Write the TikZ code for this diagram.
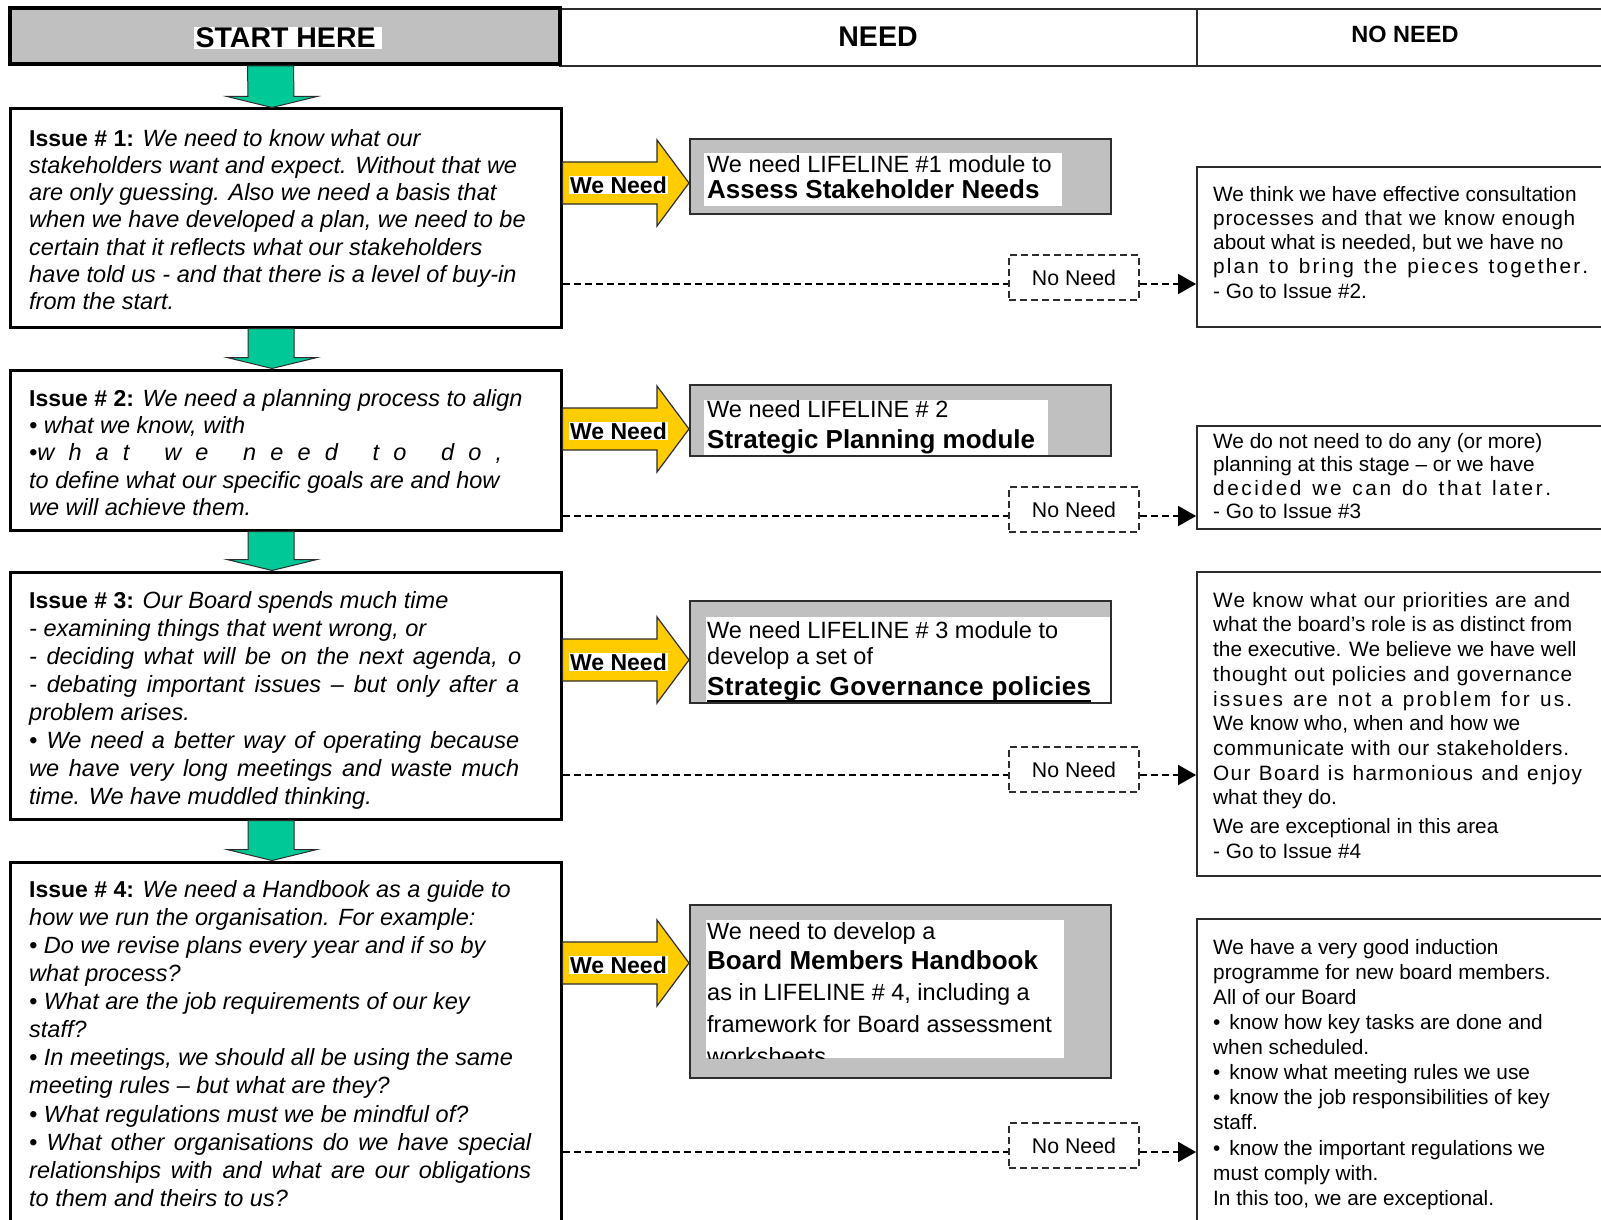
\documentclass[tikz,border=0pt]{standalone}
\usepackage{fontspec}
\setmainfont{Liberation Sans}
\usetikzlibrary{arrows.meta,calc}

\definecolor{cellgrey}{RGB}{192,192,192}
\definecolor{flowgreen}{RGB}{0,200,150}
\definecolor{needyellow}{RGB}{255,204,0}
\definecolor{edgegrey}{RGB}{45,45,45}

% spread a line letter by letter to a fixed width (~ marks a word space)
\makeatletter
\newcommand\spreadto[2]{\makebox[#1][s]{\@tfor\spr@tok:=#2\do{\spr@tok\hfil}\unskip}}
\makeatother
\newcommand\issuetag[1]{{\upshape\bfseries\fontsize{23}{27}\selectfont Issue \# #1:}}

% green block arrow between two stacked boxes
\newcommand\flowdown[2]{%
  \filldraw[flowarrow] ($(#1.south)+(-37.5,0)$) -- ($(#1.south)+(8.5,0)$)
    -- ($(#2.north)+(8.5,-11)$) -- ($(#2.north)+(31.5,-11)$)
    -- ($(#2.north)+(-13.5,0)$) -- ($(#2.north)+(-58.5,-11)$)
    -- ($(#2.north)+(-37.5,-11)$) -- cycle;}
% yellow block arrow from an issue box to its module box, at level #3
\newcommand\needarrow[3]{%
  \filldraw[needarrowstyle] ($(#1.east |- #3)+(0,-21)$) -- ($(#2.west |- #3)+(-32,-21)$)
    -- ($(#2.west |- #3)+(-32,-43)$) -- (#2.west |- #3)
    -- ($(#2.west |- #3)+(-32,43)$) -- ($(#2.west |- #3)+(-32,21)$)
    -- ($(#1.east |- #3)+(0,21)$) -- cycle;}
% dashed "no need" route: issue box -> label box -> outcome box
\newcommand\noneedroute[4]{%
  \draw[dashlink] (#1.east |- #4) -- (#2.west |- #4);
  \draw[dashlink,-{Triangle[length=18pt,width=20pt]}] (#2.east |- #4) -- (#3.west |- #4);}

\begin{document}
\begin{tikzpicture}[x=1pt,y=-1pt,
  issuebox/.style={draw=black, line width=3pt, fill=white, inner sep=0pt, minimum width=551pt},
  startbox/.style={draw=black, line width=4pt, fill=cellgrey, inner sep=0pt},
  hdrcell/.style={draw=edgegrey, line width=1.6pt, inner sep=0pt, minimum height=57pt},
  hdrtext/.style={inner sep=0pt, font=\bfseries\fontsize{28.5}{32}\selectfont},
  lifebox/.style={draw=edgegrey, line width=2pt, fill=cellgrey, inner sep=0pt, minimum width=421pt},
  nnbox/.style={draw=edgegrey, line width=1.8pt, dash pattern=on 7pt off 4pt, fill=white,
    inner sep=0pt, minimum width=130pt, minimum height=45pt, font=\fontsize{21.3}{24}\selectfont},
  outbox/.style={draw=edgegrey, line width=1.8pt, fill=white, inner sep=0pt, minimum width=423pt},
  dashlink/.style={draw=black, line width=1.6pt, dash pattern=on 7pt off 4pt},
  flowarrow/.style={fill=flowgreen, draw=edgegrey, line width=1pt},
  needarrowstyle/.style={fill=needyellow, draw=edgegrey, line width=1.2pt},
  needlabel/.style={fill=white, inner xsep=1pt, inner ysep=0.5pt, font=\bfseries\fontsize{23}{26}\selectfont},
  issuetext/.style={anchor=north west, inner sep=0pt, align=left},
  outtext/.style={anchor=north west, inner sep=0pt, align=left},
  lifetext/.style={anchor=base west, inner sep=0pt, font=\fontsize{23.5}{28}\selectfont},
  lifehead/.style={anchor=base west, inner sep=0pt, font=\bfseries\fontsize{26}{30}\selectfont}]

\useasboundingbox (0,0) rectangle (1601,1220);
\fill[white] (0,0) rectangle (1601,1220);

% ---------- header row ----------
\node[hdrcell, minimum width=637pt] (needhdr) at (878.5,37.5) {};
\node[hdrcell, minimum width=416pt] (noneedhdr) at (1405,37.5) {};
\node[hdrtext] (needlbl) at (878,37) {NEED};
\node[inner sep=0pt, font=\bfseries\fontsize{23.5}{28}\selectfont] (noneedlbl) at (1405,34) {NO NEED};
\node[startbox, minimum width=550pt, minimum height=56pt] (start) at (285,36) {};
\node[hdrtext, fill=white, inner xsep=2pt, inner ysep=1pt] (startlbl) at (288,38) {START HERE\,};

% ---------- issue boxes ----------
\node[issuebox, minimum height=218pt] (iss1) at (285.5,218) {};
\node[issuebox, minimum height=160pt] (iss2) at (285.5,450) {};
\node[issuebox, minimum height=247pt] (iss3) at (285.5,695.5) {};
\node[issuebox, minimum height=398pt] (iss4) at (285.5,1061) {};

\node[issuetext, font=\itshape\fontsize{23.5}{27.2}\selectfont] (iss1txt) at (29,129) {%
\issuetag{1} We need to know what our\\
stakeholders want and expect. Without that we\\
are only guessing. Also we need a basis that\\
when we have developed a plan, we need to be\\
certain that it reflects what our stakeholders\\
have told us - and that there is a level of buy-in\\
from the start.};

\node[issuetext, font=\itshape\fontsize{23.5}{27.3}\selectfont] (iss2txt) at (29,389) {%
\issuetag{2} We need a planning process to align\\
• what we know, with\\
\spreadto{473pt}{{•w}hat~we~need~to~do,}\\
to define what our specific goals are and how\\
we will achieve them.};

\begin{scope}
\clip (0,560) rectangle (520,830);
\node[issuetext, font=\itshape\fontsize{23.5}{28}\selectfont] (iss3txt) at (29,591) {%
\issuetag{3} Our Board spends much time\\
- examining things that went wrong, or\\
\makebox[500pt][s]{- deciding what will be on the next agenda, or}\\
\makebox[490pt][s]{- debating important issues – but only after a}\\
problem arises.\\
\makebox[490pt][s]{• We need a better way of operating because}\\
\makebox[490pt][s]{we have very long meetings and waste much}\\
time. We have muddled thinking.};
\end{scope}

\begin{scope}
\clip (0,850) rectangle (531,1220);
\node[issuetext, font=\itshape\fontsize{23.5}{28.1}\selectfont] (iss4txt) at (29,880) {%
\issuetag{4} We need a Handbook as a guide to\\
how we run the organisation. For example:\\
• Do we revise plans every year and if so by\\
what process?\\
• What are the job requirements of our key\\
staff?\\
• In meetings, we should all be using the same\\
meeting rules – but what are they?\\
• What regulations must we be mindful of?\\
\makebox[502pt][s]{• What other organisations do we have special}\\
\makebox[502pt][s]{relationships with and what are our obligations}\\
to them and theirs to us?};
\end{scope}

% ---------- module boxes ----------
\node[lifebox, minimum height=75pt] (g1) at (900.5,176.5) {};
\node[lifebox, minimum height=71pt] (g2) at (900.5,420.5) {};
\node[lifebox, minimum height=102pt] (g3) at (900.5,652) {};
\node[lifebox, minimum height=173pt] (g4) at (900.5,991.5) {};

\fill[white] (704,153) rectangle (1062,206);
\node[lifetext] (g1a) at (707,172) {We need LIFELINE \#1 module to};
\node[lifehead] (g1b) at (707,198) {Assess Stakeholder Needs};

\fill[white] (704,400) rectangle (1048,455);
\node[lifetext] (g2a) at (707,417) {We need LIFELINE \# 2};
\node[lifehead] (g2b) at (707,448) {Strategic Planning module};

\fill[white] (706,617) rectangle (1110,702);
\node[lifetext] (g3a) at (707,638) {We need LIFELINE \# 3 module to};
\node[lifetext] (g3b) at (707,664) {develop a set of};
\node[lifehead] (g3c) at (707,695) {\spreadto{384pt}{Strategic~Governance~policies}};
\draw[line width=2.6pt] ([yshift=-6pt]g3c.base west) -- ([yshift=-6pt]g3c.base east);

\fill[white] (706,920) rectangle (1064,1058);
\begin{scope}
\clip (706,920) rectangle (1064,1058);
\node[lifetext] (g4a) at (707,939) {We need to develop a};
\node[lifehead] (g4b) at (707,969) {Board Members Handbook};
\node[lifetext] (g4c) at (707,1000) {as in LIFELINE \# 4, including a};
\node[lifetext] (g4d) at (707,1032) {framework for Board assessment};
\node[lifetext] (g4e) at (707,1064) {worksheets};
\end{scope}

% ---------- outcome boxes ----------
\node[outbox, minimum height=160pt] (r1) at (1408.5,247) {};
\node[outbox, minimum height=103pt] (r2) at (1408.5,477.5) {};
\node[outbox, minimum height=304pt] (r3) at (1408.5,724) {};
\node[outbox, minimum height=341pt] (r4) at (1408.5,1089.5) {};

\node[outtext, font=\fontsize{20.8}{24.2}\selectfont] (r1txt) at (1213,186) {%
We think we have effective consultation\\
\spreadto{362pt}{processes~and~that~we~know~enough}\\
about what is needed, but we have no\\
\spreadto{375pt}{plan~to~bring~the~pieces~together.}\\
- Go to Issue \#2.};

\node[outtext, font=\fontsize{20.8}{23.5}\selectfont] (r2txt) at (1213,433) {%
We do not need to do any (or more)\\
planning at this stage – or we have\\
\spreadto{338pt}{decided~we~can~do~that~later.}\\
- Go to Issue \#3};

\node[outtext, font=\fontsize{20.8}{24.7}\selectfont] (r3txt) at (1213,592) {%
\spreadto{357pt}{We~know~what~our~priorities~are~and}\\
what the board’s role is as distinct from\\
the executive. We believe we have well\\
\spreadto{359pt}{thought~out~policies~and~governance}\\
\spreadto{359pt}{issues~are~not~a~problem~for~us.}\\
We know who, when and how we\\
\spreadto{356pt}{communicate~with~our~stakeholders.}\\
\spreadto{369pt}{Our~Board~is~harmonious~and~enjoy}\\
what they do.\\[4pt]
We are exceptional in this area\\
- Go to Issue \#4};

\node[outtext, font=\fontsize{20.8}{25.1}\selectfont] (r4txt) at (1213,939) {%
We have a very good induction\\
programme for new board members.\\
All of our Board\\
•\hspace{9pt}know how key tasks are done and\\
when scheduled.\\
•\hspace{9pt}know what meeting rules we use\\
•\hspace{9pt}know the job responsibilities of key\\
staff.\\
•\hspace{9pt}know the important regulations we\\
must comply with.\\
In this too, we are exceptional.};

% ---------- "No Need" labels ----------
\node[nnbox] (nn1) at (1074,277.5) {No Need};
\node[nnbox] (nn2) at (1074,509.5) {No Need};
\node[nnbox] (nn3) at (1074,769.5) {No Need};
\node[nnbox] (nn4) at (1074,1145.5) {No Need};

% ---------- levels of the horizontal routes ----------
\coordinate (lv1) at (0,183);
\coordinate (lv2) at (0,429);
\coordinate (lv3) at (0,660);
\coordinate (lv4) at (0,963);
\coordinate (dl1) at (0,284);
\coordinate (dl2) at (0,516);
\coordinate (dl3) at (0,775);
\coordinate (dl4) at (0,1152);

% ---------- connectors ----------
\flowdown{start}{iss1}
\flowdown{iss1}{iss2}
\flowdown{iss2}{iss3}
\flowdown{iss3}{iss4}

\needarrow{iss1}{g1}{lv1}
\needarrow{iss2}{g2}{lv2}
\needarrow{iss3}{g3}{lv3}
\needarrow{iss4}{g4}{lv4}

\node[needlabel] (wn1) at ($(iss1.east |- lv1)+(56,2)$) {We Need};
\node[needlabel] (wn2) at ($(iss2.east |- lv2)+(56,2)$) {We Need};
\node[needlabel] (wn3) at ($(iss3.east |- lv3)+(56,2)$) {We Need};
\node[needlabel] (wn4) at ($(iss4.east |- lv4)+(56,2)$) {We Need};

\noneedroute{iss1}{nn1}{r1}{dl1}
\noneedroute{iss2}{nn2}{r2}{dl2}
\noneedroute{iss3}{nn3}{r3}{dl3}
\noneedroute{iss4}{nn4}{r4}{dl4}

\end{tikzpicture}
\end{document}
